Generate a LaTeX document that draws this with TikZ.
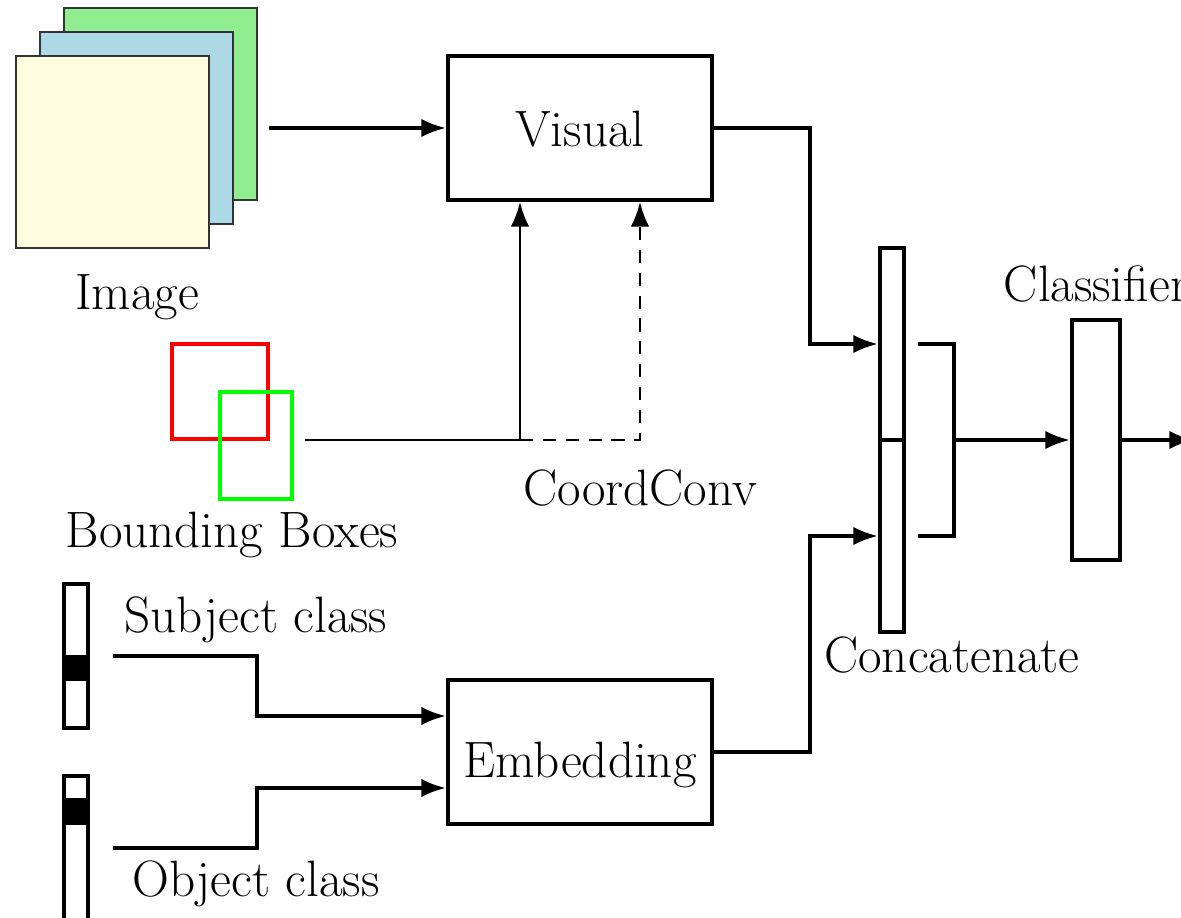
\documentclass[tikz,border=0pt]{standalone}
\usetikzlibrary{arrows.meta,calc}
\definecolor{imgyellow}{RGB}{255,253,224}
\definecolor{imgblue}{RGB}{173,216,230}
\definecolor{imggreen}{RGB}{144,238,144}
\begin{document}
\begin{tikzpicture}[x=0.02cm,y=-0.02cm,
  font=\fontsize{29.1}{34}\selectfont,
  thick line/.style={line width=2.2pt},
  thin line/.style={line width=1.5pt},
  arr/.style={-{Latex[length=14pt,width=10.5pt]}},
  block/.style={draw,thick line,rectangle,inner sep=0pt},
  sheet/.style={draw=black!80,line width=0.7pt,rectangle,inner sep=0pt,minimum width=3.86cm,minimum height=3.84cm},
  lbl/.style={anchor=base,inner sep=0pt}]
\useasboundingbox (0,0) rectangle (1181,918);
% image stack
\node[sheet,fill=imggreen] (img3) at (160.5,104) {};
\node[sheet,fill=imgblue] (img2) at (136.5,128) {};
\node[sheet,fill=imgyellow] (img1) at (112.5,152) {};
\node[lbl] (imglbl) at (137,310) {Image};
\coordinate (imgout) at (269,128);
% visual
\node[block,minimum width=5.28cm,minimum height=2.88cm,text height=21.5pt,text depth=0pt] (visual) at (580,128) {Visual};
\draw[thick line,arr] (imgout) -- (visual.west);
% bounding boxes
\node[draw=red,line width=2.2pt,rectangle,inner sep=0pt,minimum width=1.92cm,minimum height=1.9cm] (bbred) at (220,391.5) {};
\node[draw=green,line width=2.2pt,rectangle,inner sep=0pt,minimum width=1.44cm,minimum height=2.14cm] (bbgreen) at (256,445.5) {};
\node[lbl] (bblbl) at (232,548) {Bounding Boxes};
\coordinate (bbout) at (305,440);
\coordinate (j1) at (520,440);
\coordinate (j2) at (640,440);
\draw[thin line] (bbout) -- (j1);
\draw[thin line,arr] (j1) -- (j1 |- visual.south);
\draw[thin line,dash pattern=on 7.5pt off 5.5pt,arr] (j1) -- (j2) -- (j2 |- visual.south);
\node[lbl] (cclbl) at (640,506) {CoordConv};
% concatenate
\node[block,minimum width=0.48cm,minimum height=3.84cm] (ctop) at (892,344) {};
\node[block,minimum width=0.48cm,minimum height=3.84cm] (cbot) at (892,536) {};
\node[lbl] (catlbl) at (952,673) {Concatenate};
\draw[thick line,arr] (visual.east) -- ++(96,0) |- (ctop.west);
\coordinate (bk) at (952,440);
\draw[thick line] ([xshift=0.24cm]ctop.east) -- ++(36,0) |- ([xshift=0.24cm]cbot.east);
% classifier
\node[block,minimum width=0.96cm,minimum height=4.8cm] (cls) at (1096,440) {};
\node[lbl] (clslbl) at (1096,302) {Classifier};
\draw[thick line,arr] (bk) -- (cls.west);
\coordinate (out) at (1194,440);
\draw[thick line,arr] (cls.east) -- (out);
% embedding
\node[block,minimum width=5.28cm,minimum height=2.88cm,text height=29.5pt,text depth=0pt] (emb) at (580,752) {Embedding};
\draw[thick line,arr] (emb.east) -- ++(96,0) |- (cbot.west);
% one-hot vectors
\node[block,minimum width=0.48cm,minimum height=2.88cm] (subj) at (76,656) {};
\fill (64,655) rectangle (88,681);
\node[block,minimum width=0.48cm,minimum height=2.88cm] (obj) at (76,848) {};
\fill (64,798) rectangle (88,825);
\node[lbl] (subjlbl) at (256,633) {Subject class};
\node[lbl] (objlbl) at (256,897) {Object class};
\coordinate (subjout) at (113,656);
\coordinate (objout) at (113,848);
\draw[thick line,arr] (subjout) -| (257,716) -- ([yshift=0.72cm]emb.west);
\draw[thick line,arr] (objout) -| (257,788) -- ([yshift=-0.72cm]emb.west);
\end{tikzpicture}
\end{document}
